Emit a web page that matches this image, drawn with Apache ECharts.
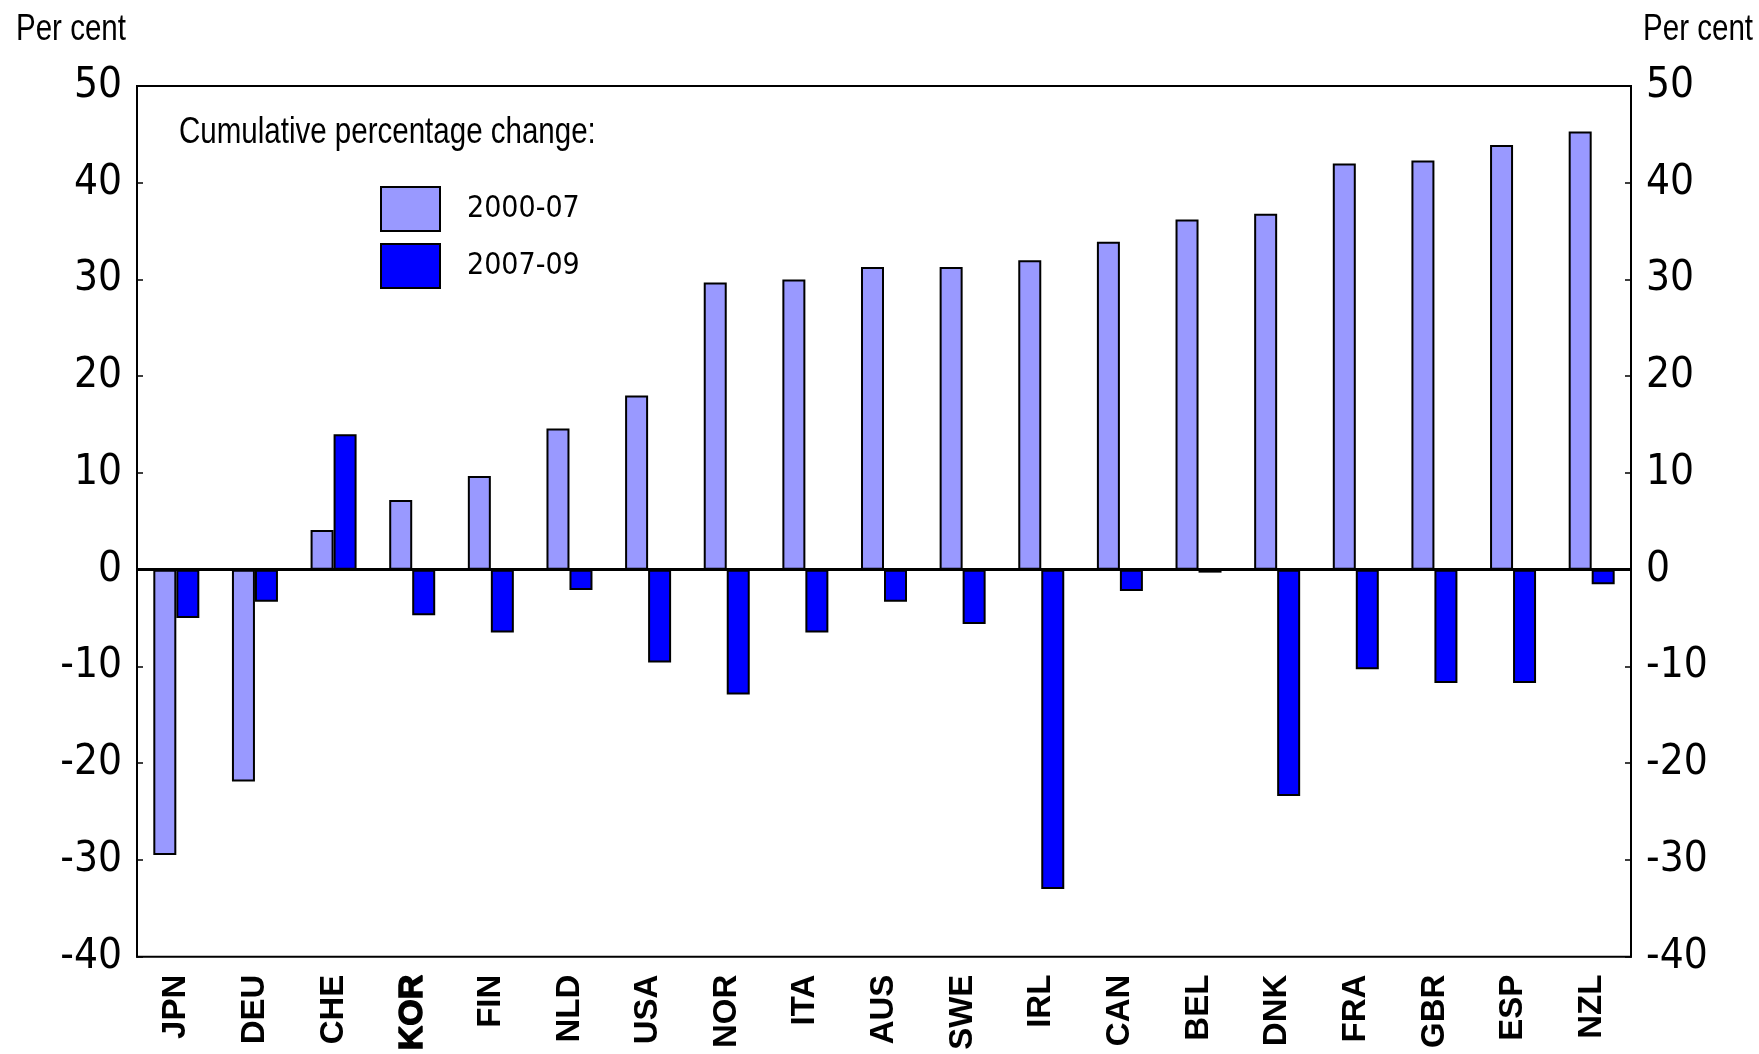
<!DOCTYPE html>
<html>
<head>
<meta charset="utf-8">
<script src="https://cdn.jsdelivr.net/npm/echarts@6/dist/echarts.min.js"></script>
<style>
  html, body { margin: 0; padding: 0; background: #fff; }
  #chart { width: 1759px; height: 1054px; }
</style>
</head>
<body>
<div id="chart"></div>
<script>
const countries = ['JPN', 'DEU', 'CHE', 'KOR', 'FIN', 'NLD', 'USA', 'NOR', 'ITA', 'AUS',
  'SWE', 'IRL', 'CAN', 'BEL', 'DNK', 'FRA', 'GBR', 'ESP', 'NZL'];
const change2000to07 = [-29.5, -21.9, 4.1, 7.2, 9.7, 14.6, 18.0, 29.7, 30.0, 31.3,
  31.3, 32.0, 33.9, 36.2, 36.8, 42.0, 42.3, 43.9, 45.3];
const change2007to09 = [-5.0, -3.3, 14.0, -4.7, -6.5, -2.1, -9.6, -12.9, -6.5, -3.3,
  -5.6, -33.0, -2.2, -0.3, -23.4, -10.3, -11.7, -11.7, -1.5];
const yTicks = { min: -40, max: 50, step: 10 };
const highlighted = 'KOR';

const narrow = '"Liberation Sans Narrow", "DejaVu Sans Condensed", sans-serif';
const arial = '"Liberation Sans", Arial, sans-serif';

const chart = echarts.init(document.getElementById('chart'));

const yAxisBase = {
  type: 'value',
  min: yTicks.min,
  max: yTicks.max,
  interval: yTicks.step,
  splitLine: { show: false },
  axisLine: { show: true, lineStyle: { color: '#000', width: 2 } },
  axisTick: { show: true, inside: true, length: 6, lineStyle: { color: '#000', width: 1.5 } },
  axisLabel: { color: '#000', fontSize: 42, fontFamily: narrow, margin: 15 }
};

const barStyle = color => ({ color: color, borderColor: '#000', borderWidth: 2 });

// squeezed Arial to look like the narrow face of the original
const narrowText = (text, x, y, align) => ({
  type: 'text', x: x, y: y, scaleX: 0.82,
  style: { text: text, fontSize: 36, fontFamily: arial, fill: '#000', align: align, verticalAlign: 'middle' }
});

chart.setOption({
  animation: false,
  grid: {
    left: 137, right: 128, top: 86, bottom: 97,
    show: true, borderColor: '#000', borderWidth: 2, backgroundColor: 'transparent'
  },
  xAxis: {
    type: 'category',
    data: countries,
    axisLine: { show: false },
    axisTick: { show: false },
    axisLabel: {
      rotate: 90,
      margin: 18,
      interval: 0,
      color: '#000',
      fontSize: 33,
      fontWeight: 'bold',
      fontFamily: arial,
      formatter: v => v === highlighted ? '{hi|' + v + '}' : v,
      rich: {
        hi: { fontSize: 34, fontWeight: 'bold', color: '#000', fontFamily: arial,
              textBorderColor: '#000', textBorderWidth: 1.5 }
      }
    }
  },
  yAxis: [
    Object.assign({}, yAxisBase, { position: 'left' }),
    Object.assign({}, yAxisBase, { position: 'right' })
  ],
  legend: {
    orient: 'vertical',
    left: 380,
    top: 186,
    padding: 0,
    icon: 'rect',
    itemWidth: 59,
    itemHeight: 44,
    itemGap: 11,
    selectedMode: false,
    textStyle: { color: '#000', fontSize: 30, fontFamily: narrow, padding: [0, 0, 0, 22] },
    data: [
      { name: '2000-07', itemStyle: barStyle('#9999ff') },
      { name: '2007-09', itemStyle: barStyle('#0000ff') }
    ]
  },
  graphic: [
    narrowText('Per cent', 16, 30, 'left'),
    narrowText('Per cent', 1753, 30, 'right'),
    narrowText('Cumulative percentage change:', 179, 133, 'left')
  ],
  series: [
    {
      name: '2000-07',
      type: 'bar',
      data: change2000to07,
      barWidth: 23,
      barGap: '0%',
      itemStyle: barStyle('#9999ff')
    },
    {
      name: '2007-09',
      type: 'bar',
      data: change2007to09,
      barWidth: 23,
      barGap: '0%',
      itemStyle: barStyle('#0000ff'),
      markLine: {
        silent: true,
        symbol: 'none',
        label: { show: false },
        lineStyle: { color: '#000', width: 3, type: 'solid' },
        data: [{ yAxis: 0 }]
      }
    }
  ]
});
</script>
</body>
</html>
